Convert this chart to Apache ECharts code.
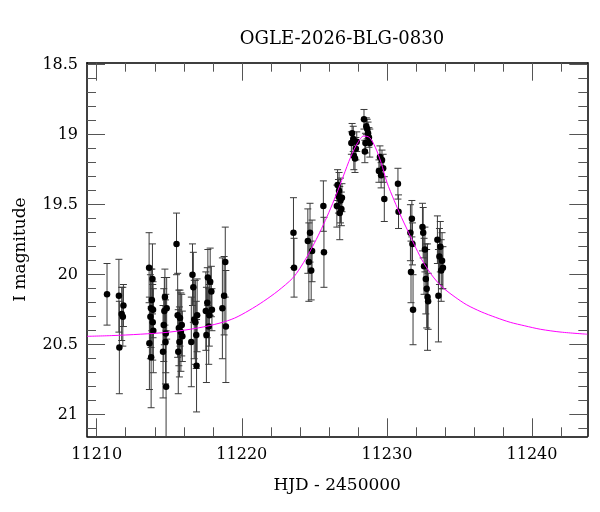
<!DOCTYPE html>
<html>
<head>
<meta charset="utf-8">
<script src="https://cdn.jsdelivr.net/npm/echarts@6/dist/echarts.min.js"></script>
<style>
  html, body { margin: 0; padding: 0; background: #fff; }
  #chart { width: 600px; height: 512px; }
</style>
</head>
<body>
<div id="chart"></div>
<script>
var chartTitle = 'OGLE-2026-BLG-0830';

// photometry: HJD-2450000, I mag, error
var hjd = [
  11210.71,
  11211.53, 11211.56, 11211.72, 11211.80, 11211.84,
  11213.61, 11213.63, 11213.70, 11213.74, 11213.75, 11213.80, 11213.84, 11213.88, 11213.86, 11213.90,
  11214.57, 11214.62, 11214.66, 11214.70, 11214.74, 11214.76, 11214.78, 11214.82,
  11215.50, 11215.58, 11215.62, 11215.66, 11215.70, 11215.74, 11215.80, 11215.86, 11215.90,
  11216.52, 11216.60, 11216.66, 11216.72, 11216.80, 11216.86, 11216.88, 11216.92,
  11217.52, 11217.56, 11217.62, 11217.66, 11217.72, 11217.76, 11217.82, 11217.90, 11217.94,
  11218.66, 11218.78, 11218.86, 11218.90,
  11223.56, 11223.60,
  11224.55, 11224.62, 11224.70, 11224.78, 11224.84,
  11225.62, 11225.66,
  11226.55, 11226.60, 11226.66, 11226.70, 11226.75, 11226.80, 11226.86, 11226.90,
  11227.55, 11227.60, 11227.68, 11227.72, 11227.80, 11227.86, 11227.92,
  11228.42, 11228.48, 11228.52, 11228.58, 11228.64, 11228.70, 11228.76, 11228.82,
  11229.45, 11229.52, 11229.60, 11229.66, 11229.74, 11229.82,
  11230.76, 11230.80,
  11231.62, 11231.66, 11231.72, 11231.76, 11231.80,
  11232.45, 11232.50, 11232.56, 11232.62, 11232.68, 11232.74, 11232.80, 11232.84,
  11233.48, 11233.55, 11233.62, 11233.68, 11233.74, 11233.80, 11233.86
];
var mag = [
  20.14,
  20.15, 20.52, 20.28, 20.30, 20.22,
  19.95, 20.49, 20.30, 20.24, 20.59, 20.18, 20.03, 20.25, 20.34, 20.40,
  20.55, 20.36, 20.26, 20.16, 20.48, 20.42, 20.80, 20.24,
  19.78, 20.29, 20.55, 20.38, 20.48, 20.31, 20.41, 20.36, 20.44,
  20.48, 20.00, 20.09, 20.32, 20.34, 20.43, 20.65, 20.29,
  20.26, 20.43, 20.20, 20.02, 20.37, 20.29, 20.05, 20.12, 20.25,
  20.24, 20.15, 19.91, 20.37,
  19.70, 19.95,
  19.76, 19.91, 19.70, 19.97, 19.83,
  19.51, 19.84,
  19.51, 19.36, 19.44, 19.40, 19.56, 19.47, 19.53, 19.45,
  19.06, 18.99, 19.03, 19.15, 19.17, 19.10, 19.05,
  18.89, 19.12, 19.06, 18.94, 18.96, 18.99, 19.02, 19.06,
  19.26, 19.16, 19.29, 19.18, 19.24, 19.46,
  19.35, 19.55,
  19.70, 19.98, 19.60, 19.78, 20.25,
  19.66, 19.70, 19.94, 19.82, 20.03, 20.10, 20.16, 20.19,
  19.75, 20.15, 19.87, 19.80, 19.97, 19.90, 19.95
];
var err = [
  0.22,
  0.26, 0.33, 0.19, 0.21, 0.15,
  0.25, 0.33, 0.30, 0.28, 0.36, 0.22, 0.25, 0.20, 0.27, 0.30,
  0.33, 0.26, 0.24, 0.20, 0.30, 0.28, 0.40, 0.22,
  0.22, 0.30, 0.30, 0.27, 0.25, 0.20, 0.28, 0.22, 0.18,
  0.32, 0.22, 0.25, 0.28, 0.30, 0.24, 0.33, 0.26,
  0.28, 0.34, 0.25, 0.20, 0.27, 0.22, 0.24, 0.18, 0.15,
  0.36, 0.28, 0.25, 0.40,
  0.25, 0.21,
  0.23, 0.28, 0.21, 0.21, 0.22,
  0.18, 0.25,
  0.15, 0.11, 0.12, 0.13, 0.19, 0.16, 0.12, 0.10,
  0.08, 0.07, 0.09, 0.10, 0.10, 0.08, 0.07,
  0.07, 0.08, 0.07, 0.06, 0.07, 0.08, 0.07, 0.10,
  0.08, 0.08, 0.09, 0.07, 0.10, 0.16,
  0.11, 0.12,
  0.20, 0.22, 0.13, 0.15, 0.25,
  0.17, 0.18, 0.20, 0.16, 0.25, 0.28, 0.38, 0.20,
  0.17, 0.33, 0.20, 0.18, 0.22, 0.20, 0.15
];

// model light curve
var modelHjd = [11209.33, 11211, 11213, 11215, 11217, 11218.5, 11219.5, 11220.5, 11221.5, 11222.5,
  11223.5, 11224, 11224.5, 11225, 11225.5, 11226, 11226.5, 11227, 11227.5, 11228,
  11228.4, 11228.8, 11229.2, 11229.6, 11230, 11230.5, 11231, 11231.5, 11232, 11232.5,
  11233, 11233.5, 11234, 11234.7, 11235.5, 11236.5, 11237.5, 11238.5, 11239.5, 11240.6,
  11242, 11243.81];
var modelMag = [20.440, 20.435, 20.425, 20.41, 20.38, 20.345, 20.31, 20.255, 20.19, 20.115,
  20.025, 19.955, 19.87, 19.775, 19.67, 19.555, 19.43, 19.295, 19.16, 19.055,
  19.01, 19.02, 19.09, 19.20, 19.34, 19.47, 19.59, 19.70, 19.81, 19.91,
  19.99, 20.055, 20.105, 20.16, 20.215, 20.265, 20.305, 20.34, 20.365, 20.39,
  20.41, 20.425];

var xMajor = [11210, 11220, 11230, 11240];
var xMinor = [11212, 11214, 11216, 11218, 11222, 11224, 11226, 11228, 11232, 11234, 11236, 11238, 11242];
var yMajor = [18.5, 19, 19.5, 20, 20.5, 21];
var yMinor = [18.6, 18.7, 18.8, 18.9, 19.1, 19.2, 19.3, 19.4, 19.6, 19.7, 19.8, 19.9,
  20.1, 20.2, 20.3, 20.4, 20.6, 20.7, 20.8, 20.9, 21.1];

var xMin = 11209.33, xMax = 11243.81;
var yMin = 18.486, yMax = 21.154;

var font = 'DejaVu Serif';
var tickColor = '#555';

function xAx(pos, major, withLabel) {
  var vals = major ? xMajor : xMinor;
  var ax = {
    type: 'value', position: pos, min: xMin, max: xMax,
    axisLine: { show: major, onZero: false, lineStyle: { color: '#000', width: 1.5 } },
    axisTick: { show: true, inside: true, length: major ? 18 : 9, customValues: vals,
      lineStyle: { color: tickColor, width: 1 } },
    axisLabel: { show: false },
    splitLine: { show: false }
  };
  if (withLabel) {
    ax.axisLabel = { show: true, customValues: vals, margin: 11,
      fontFamily: font, fontSize: 16, color: '#000',
      formatter: function (v) { return String(v); } };
    ax.name = 'HJD - 2450000';
    ax.nameLocation = 'middle';
    ax.nameGap = 41;
    ax.nameTextStyle = { fontFamily: font, fontSize: 17, color: '#000' };
  }
  return ax;
}

function yAx(pos, major, withLabel) {
  var vals = major ? yMajor : yMinor;
  var ax = {
    type: 'value', position: pos, min: yMin, max: yMax, inverse: true,
    axisLine: { show: major, onZero: false, lineStyle: { color: '#000', width: 1.5 } },
    axisTick: { show: true, inside: true, length: major ? 18 : 9, customValues: vals,
      lineStyle: { color: tickColor, width: 1 } },
    axisLabel: { show: false },
    splitLine: { show: false }
  };
  if (withLabel) {
    ax.axisLabel = { show: true, customValues: vals, margin: 9,
      fontFamily: font, fontSize: 16, color: '#000',
      formatter: function (v) { return String(v); } };
    ax.name = 'I magnitude';
    ax.nameLocation = 'middle';
    ax.nameRotate = 90;
    ax.nameGap = 58;
    ax.nameTextStyle = { fontFamily: font, fontSize: 17, color: '#000' };
  }
  return ax;
}

var points = [];
for (var i = 0; i < hjd.length; i++) {
  points.push([hjd[i], mag[i], err[i]]);
}
var model = [];
for (var j = 0; j < modelHjd.length; j++) {
  model.push([modelHjd[j], modelMag[j]]);
}

var myChart = echarts.init(document.getElementById('chart'));
var option = {
  animation: false,
  backgroundColor: '#fff',
  title: {
    text: chartTitle, left: 337, top: 25, textAlign: 'center',
    textStyle: { fontFamily: font, fontSize: 18, fontWeight: 'normal', color: '#000' }
  },
  grid: { left: 87, right: 12.7, top: 62.7, bottom: 75.7, containLabel: false },
  xAxis: [xAx('bottom', true, true), xAx('bottom', false, false), xAx('top', true, false), xAx('top', false, false)],
  yAxis: [yAx('left', true, true), yAx('left', false, false), yAx('right', true, false), yAx('right', false, false)],
  series: [
    {
      type: 'custom',
      xAxisIndex: 0, yAxisIndex: 0,
      clip: true,
      encode: { x: 0, y: 1 },
      data: points,
      renderItem: function (params, api) {
        var t = api.value(0), m = api.value(1), e = api.value(2);
        var top = api.coord([t, m - e]);
        var bot = api.coord([t, m + e]);
        var w = 3.5;
        var st = { stroke: '#3a3a3a', lineWidth: 1 };
        return {
          type: 'group',
          children: [
            { type: 'line', shape: { x1: top[0], y1: top[1], x2: bot[0], y2: bot[1] }, style: st },
            { type: 'line', shape: { x1: top[0] - w, y1: top[1], x2: top[0] + w, y2: top[1] }, style: st },
            { type: 'line', shape: { x1: bot[0] - w, y1: bot[1], x2: bot[0] + w, y2: bot[1] }, style: st }
          ]
        };
      },
      z: 2
    },
    {
      type: 'scatter',
      xAxisIndex: 0, yAxisIndex: 0,
      data: points,
      symbol: 'circle',
      symbolSize: 6.5,
      itemStyle: { color: '#000', opacity: 1 },
      z: 3
    },
    {
      type: 'line',
      xAxisIndex: 0, yAxisIndex: 0,
      data: model,
      showSymbol: false,
      smooth: 0.3,
      lineStyle: { color: '#ff00ff', width: 1 },
      z: 4
    }
  ]
};
myChart.setOption(option);
</script>
</body>
</html>
